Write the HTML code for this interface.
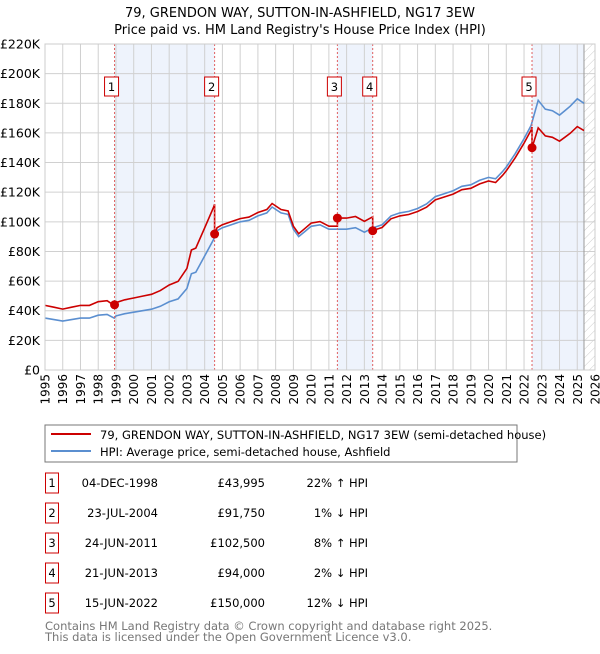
<!DOCTYPE html>
<html><head><meta charset="utf-8"><style>
body{margin:0;background:#fff;width:600px;height:650px;overflow:hidden;font-family:"DejaVu Sans","Liberation Sans",sans-serif}
svg text{font-family:"DejaVu Sans","Liberation Sans",sans-serif}
</style></head><body>
<svg id="chart" width="600" height="650" xmlns="http://www.w3.org/2000/svg">
<defs><pattern id="hatch" patternUnits="userSpaceOnUse" width="6" height="6" patternTransform="rotate(45)"><line x1="0" y1="0" x2="0" y2="6" stroke="#ccc" stroke-width="1"/></pattern></defs>
<text x="300" y="17" text-anchor="middle" font-size="13" fill="#000">79, GRENDON WAY, SUTTON-IN-ASHFIELD, NG17 3EW</text>
<text x="300" y="34" text-anchor="middle" font-size="13" fill="#000">Price paid vs. HM Land Registry's House Price Index (HPI)</text>
<g id="plot"></g>
<rect x="45" y="425" width="472" height="37" fill="#fff" stroke="#777" stroke-width="1"/>
<line x1="51" y1="434" x2="91" y2="434" stroke="#cc0000" stroke-width="2"/>
<text x="100" y="439" font-size="11.5">79, GRENDON WAY, SUTTON-IN-ASHFIELD, NG17 3EW (semi-detached house)</text>
<line x1="51" y1="451" x2="91" y2="451" stroke="#5b8fd0" stroke-width="2"/>
<text x="100" y="456" font-size="11.5">HPI: Average price, semi-detached house, Ashfield</text>
<g id="table"></g>
<text x="45" y="630" font-size="11.5" fill="#777">Contains HM Land Registry data © Crown copyright and database right 2025.</text>
<text x="45" y="641" font-size="11.5" fill="#777">This data is licensed under the Open Government Licence v3.0.</text>
</svg>
<script>
const hpiYears=[1995,1995.5,1996,1996.5,1997,1997.5,1998,1998.5,1998.9,1999,1999.5,2000,2000.5,2001,2001.5,2002,2002.5,2003,2003.25,2003.5,2004,2004.5,2004.7,2005,2005.5,2006,2006.5,2007,2007.5,2007.8,2008.3,2008.7,2009,2009.3,2009.7,2010,2010.5,2011,2011.5,2012,2012.5,2013,2013.5,2014,2014.5,2015,2015.5,2016,2016.5,2017,2017.5,2018,2018.5,2019,2019.5,2020,2020.4,2020.8,2021,2021.5,2022,2022.4,2022.8,2023.2,2023.6,2024,2024.3,2024.6,2025,2025.38];
const hpiValues=[35,34,33,34,35,35,37,37.5,35,36.5,38,39,40,41,43,46,48,55,65,66,77,88,94,96,98,100,101,104,106,110,106,105,95,90,94,97,98,95,95,95,96,93,96,98,104,106,107,109,112,117,119,121,124,125,128,130,129,134,137,146,156,165,182,176,175,172,175,178,183,180];
const saleDates=[1998.92,2004.56,2011.48,2013.47,2022.45];
const salePrices=[43.995,91.75,102.5,94,150];
const saleDateLabels=["04-DEC-1998","23-JUL-2004","24-JUN-2011","21-JUN-2013","15-JUN-2022"];
const salePriceLabels=["£43,995","£91,750","£102,500","£94,000","£150,000"];
const saleHpiLabels=["22% ↑ HPI","1% ↓ HPI","8% ↑ HPI","2% ↓ HPI","12% ↓ HPI"];
const yTicks=[0,20,40,60,80,100,120,140,160,180,200,220];
const xTicks=[1995,1996,1997,1998,1999,2000,2001,2002,2003,2004,2005,2006,2007,2008,2009,2010,2011,2012,2013,2014,2015,2016,2017,2018,2019,2020,2021,2022,2023,2024,2025,2026];

const X0=45,X1=595,Y0=370,Y1=44,dataEnd=2025.38;
const sx=t=>X0+(t-1995)/(2026-1995)*(X1-X0);
const sy=v=>Y0-v/220*(Y0-Y1);
const NS="http://www.w3.org/2000/svg";
const plot=document.getElementById('plot');
function mk(tag,attrs,parent){const e=document.createElementNS(NS,tag);for(const k in attrs)e.setAttribute(k,attrs[k]);(parent||plot).appendChild(e);return e;}
function hpiAt(t){for(let i=0;i<hpiYears.length-1;i++){if(t<=hpiYears[i+1]){const f=(t-hpiYears[i])/(hpiYears[i+1]-hpiYears[i]);return hpiValues[i]+f*(hpiValues[i+1]-hpiValues[i]);}}return hpiValues[hpiValues.length-1];}

let bg=mk('rect',{x:X0,y:Y1,width:X1-X0,height:Y0-Y1,fill:'#fff'});


[[0,1],[2,3]].forEach(p=>{const r=mk('rect',{x:sx(saleDates[p[0]]),y:Y1,width:sx(saleDates[p[1]])-sx(saleDates[p[0]]),height:Y0-Y1,fill:'#eef3fc'});

});
let s5=mk('rect',{x:sx(saleDates[4]),y:Y1,width:sx(dataEnd)-sx(saleDates[4]),height:Y0-Y1,fill:'#eef3fc'});


let hz=mk('rect',{x:sx(dataEnd),y:Y1,width:X1-sx(dataEnd),height:Y0-Y1,fill:'url(#hatch)'});


xTicks.forEach(t=>{const g=mk('line',{x1:sx(t),x2:sx(t),y1:Y1,y2:Y0,stroke:'#d0d0d0','stroke-width':1});


const tx=mk('text',{x:0,y:0,transform:`translate(${sx(t)+4.5},${Y0+4}) rotate(-90)`,'text-anchor':'end','font-size':12});
tx.textContent=t;

});
yTicks.forEach(v=>{const g=mk('line',{x1:X0,x2:X1,y1:sy(v),y2:sy(v),stroke:'#d0d0d0','stroke-width':1});


const tx=mk('text',{x:X0-5,y:sy(v)+4.5,'text-anchor':'end','font-size':12.5});
tx.textContent=v===0?'£0':'£'+v+'K';

});
let dl=mk('line',{x1:sx(dataEnd),x2:sx(dataEnd),y1:Y1,y2:Y0,stroke:'#999','stroke-width':1});


let hp=hpiYears.map((t,i)=>sx(t).toFixed(1)+','+sy(hpiValues[i]).toFixed(1)).join(' ');
let hl=mk('polyline',{points:hp,fill:'none',stroke:'#5b8fd0','stroke-width':1.6});


let pts=[];
for(let i=0;i<hpiYears.length;i++){const t=hpiYears[i];let k=0;for(let j=0;j<saleDates.length;j++)if(t>=saleDates[j])k=j;
 if(i>0){for(let j=0;j<saleDates.length;j++){if(saleDates[j]>hpiYears[i-1]&&saleDates[j]<=t){const kp=Math.max(0,j-1);const h=hpiAt(saleDates[j]);pts.push([saleDates[j],salePrices[kp]*h/hpiAt(saleDates[kp])]);pts.push([saleDates[j],salePrices[j]]);}}}
 pts.push([t,salePrices[k]*hpiValues[i]/hpiAt(saleDates[k])]);}
let rl=mk('polyline',{points:pts.map(p=>sx(p[0]).toFixed(1)+','+sy(p[1]).toFixed(1)).join(' '),fill:'none',stroke:'#cc0000','stroke-width':1.6});


saleDates.forEach((t,i)=>{const l=mk('line',{x1:sx(t),x2:sx(t),y1:Y1,y2:Y0,stroke:'#e06060','stroke-width':1,'stroke-dasharray':'2,2'});


const c=mk('circle',{cx:sx(t),cy:sy(salePrices[i]),r:4.5,fill:'#cc0000'});


const bx=sx(t)-10;
const b=mk('rect',{x:bx,y:77,width:14,height:19,fill:'#fff',stroke:'#cc0000','stroke-width':1});


const tx=mk('text',{x:bx+7,y:91,'text-anchor':'middle','font-size':11.5});
tx.textContent=i+1;

});
let br=mk('rect',{x:X0,y:Y1,width:X1-X0,height:Y0-Y1,fill:'none',stroke:'#ccc','stroke-width':1});


const tb=document.getElementById('table');
saleDates.forEach((t,i)=>{const cy=483+i*30;
const r=mk('rect',{x:45.5,y:cy-10,width:13,height:20,fill:'#fff',stroke:'#cc0000','stroke-width':1},tb);


const n=mk('text',{x:52,y:cy+4,'text-anchor':'middle','font-size':11.5},tb);n.textContent=i+1;


const d=mk('text',{x:158,y:cy+4,'text-anchor':'end','font-size':11.5},tb);d.textContent=saleDateLabels[i];


const p=mk('text',{x:265,y:cy+4,'text-anchor':'end','font-size':11.5},tb);p.textContent=salePriceLabels[i];


const h=mk('text',{x:368,y:cy+4,'text-anchor':'end','font-size':11.5},tb);h.textContent=saleHpiLabels[i];

});
</script>
</body></html>
